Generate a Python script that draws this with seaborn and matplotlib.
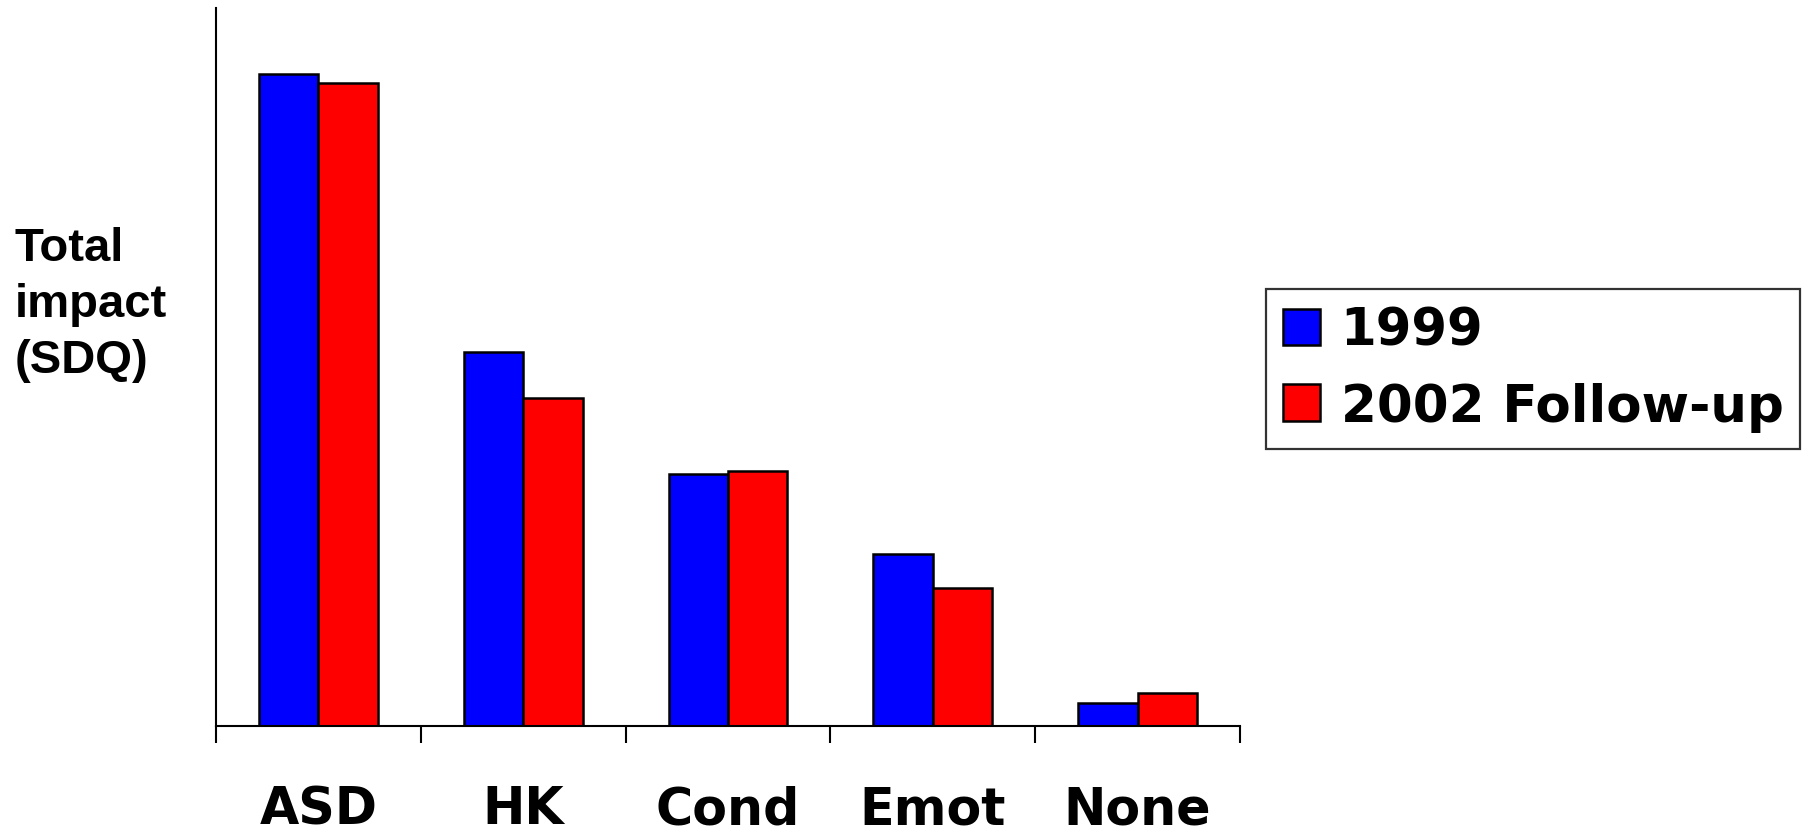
import matplotlib
matplotlib.use("Agg")
import matplotlib.pyplot as plt
import seaborn as sns
import pandas as pd
from matplotlib.ticker import FixedLocator

# Mean total impact score (SDQ) by diagnostic group
groups = ["ASD", "HK", "Cond", "Emot", "None"]
impact_1999 = [5.45, 3.13, 2.11, 1.44, 0.19]
impact_2002 = [5.37, 2.74, 2.13, 1.15, 0.28]
series = ["1999", "2002 Follow-up"]
colors = ["#0000FF", "#FF0000"]

df = pd.DataFrame({
    "group": groups * 2,
    "impact": impact_1999 + impact_2002,
    "wave": [series[0]] * len(groups) + [series[1]] * len(groups),
})

sns.set_style("white")
plt.rcParams["font.family"] = ["Liberation Sans", "DejaVu Sans"]
plt.rcParams["font.weight"] = "bold"
plt.rcParams["text.color"] = "black"
plt.rcParams["xtick.color"] = "black"
plt.rcParams["xtick.labelcolor"] = "black"

wide_font = ["DejaVu Sans"]

fig = plt.figure(figsize=(18.2, 8.29), dpi=100)
ax = fig.add_axes([0.1187, 0.123, 0.5626, 0.866])

sns.barplot(data=df, x="group", y="impact", hue="wave", order=groups,
            hue_order=series, palette=colors, width=0.58,
            edgecolor="black", linewidth=1.8, saturation=1, ax=ax)

ax.set_xlim(-0.5, len(groups) - 0.5)
ax.set_ylim(0, 6)
ax.set_yticks([])
ax.set_xlabel("")
ax.set_ylabel("")

# Ticks sit on the boundaries between groups; labels stay centred
ax.xaxis.set_minor_locator(FixedLocator([i - 0.5 for i in range(len(groups) + 1)]))
ax.tick_params(axis="x", which="major", length=0, pad=42)
ax.tick_params(axis="x", which="minor", length=12, width=1.5, color="black",
               direction="out", bottom=True)
for lab in ax.get_xticklabels():
    lab.set_fontfamily(wide_font)
    lab.set_fontsize(36.5)
    lab.set_fontweight("bold")
    lab.set_color("black")

for side in ["top", "right"]:
    ax.spines[side].set_visible(False)
for side in ["left", "bottom"]:
    ax.spines[side].set_color("black")
    ax.spines[side].set_linewidth(1.5)

fig.text(0.008, 0.632, "Total\nimpact\n(SDQ)", ha="left", va="center",
         fontsize=34, fontweight="bold", linespacing=1.36, color="black")

handles, labels = ax.get_legend_handles_labels()
ax.legend_.remove()
leg = fig.legend(handles, labels, loc="upper left",
                 bbox_to_anchor=(1266 / 1820, 1 - 290 / 829),
                 frameon=True, fancybox=False, edgecolor="black",
                 prop={"size": 37, "weight": "bold", "family": wide_font},
                 handlelength=0.72, handleheight=0.72, handletextpad=0.4,
                 labelspacing=0.5, borderpad=0.33, borderaxespad=0)
leg.get_frame().set_linewidth(1.6)
for t in leg.get_texts():
    t.set_color("black")

fig.savefig("out.png", dpi=100, facecolor="white")
